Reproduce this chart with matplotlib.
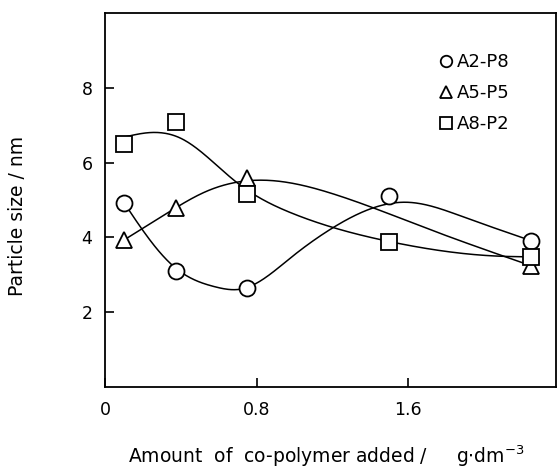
import numpy as np
import matplotlib.pyplot as plt

plt.rcParams["font.family"] = "DejaVu Sans"

conc = np.array([0.1, 0.375, 0.75, 1.5, 2.25])
a2p8 = np.array([4.93, 3.10, 2.66, 5.12, 3.91])
a5p5_x = np.array([0.1, 0.375, 0.75, 2.25])
a5p5 = np.array([3.93, 4.78, 5.58, 3.24])
a8p2 = np.array([6.49, 7.08, 5.15, 3.89, 3.48])

# hand-drawn guide curves, knots
c_a2p8_x = np.array([0.1, 0.26, 0.375, 0.58, 0.72, 0.986, 1.2, 1.59, 1.89, 2.25])
c_a2p8_y = np.array([4.93, 3.78, 3.17, 2.68, 2.62, 3.48, 4.25, 4.94, 4.55, 3.91])
c_a5p5_x = np.array([0.1, 0.325, 0.53, 0.83, 1.2, 1.72, 2.25])
c_a5p5_y = np.array([3.93, 4.64, 5.22, 5.53, 5.17, 4.2, 3.24])
c_a8p2_x = np.array([0.1, 0.23, 0.4, 0.69, 0.99, 1.5, 2.07, 2.25])
c_a8p2_y = np.array([6.68, 6.8, 6.65, 5.49, 4.64, 3.89, 3.50, 3.48])

labels = ["A2-P8", "A5-P5", "A8-P2"]
xticks = [0, 0.8, 1.6]
xticklabels = ["0", "0.8", "1.6"]
yticks = [2, 4, 6, 8]


def natural_spline(x, y, xs):
    # plain natural cubic spline
    n = len(x)
    h = np.diff(x)
    A = np.zeros((n, n))
    b = np.zeros(n)
    A[0, 0] = A[-1, -1] = 1
    for i in range(1, n - 1):
        A[i, i - 1] = h[i - 1]
        A[i, i] = 2 * (h[i - 1] + h[i])
        A[i, i + 1] = h[i]
        b[i] = 3 * ((y[i + 1] - y[i]) / h[i] - (y[i] - y[i - 1]) / h[i - 1])
    c = np.linalg.solve(A, b)
    out = np.empty_like(xs)
    for k, xv in enumerate(xs):
        i = min(max(np.searchsorted(x, xv) - 1, 0), n - 2)
        bi = (y[i + 1] - y[i]) / h[i] - h[i] * (2 * c[i] + c[i + 1]) / 3
        di = (c[i + 1] - c[i]) / (3 * h[i])
        t = xv - x[i]
        out[k] = y[i] + bi * t + c[i] * t ** 2 + di * t ** 3
    return out


fig = plt.figure(figsize=(5.58, 4.70), dpi=100)
ax = fig.add_axes([105 / 558, 1 - 387 / 470, 451 / 558, 374 / 470])

for cx, cy in [(c_a2p8_x, c_a2p8_y), (c_a5p5_x, c_a5p5_y), (c_a8p2_x, c_a8p2_y)]:
    xs = np.linspace(cx[0], cx[-1], 400)
    ax.plot(xs, natural_spline(cx, cy, xs), color="black", lw=1.1, zorder=2)

mk = dict(ls="none", ms=11.5, mfc="white", mec="black", mew=1.3, zorder=3)
ax.plot(conc, a2p8, marker="o", label=labels[0], **mk)
ax.plot(a5p5_x, a5p5, marker="^", label=labels[1], **mk)
ax.plot(conc, a8p2, marker="s", label=labels[2], **mk)

ax.set_xlim(0, 2.38)
ax.set_ylim(0, 10)
ax.set_xticks(xticks)
ax.set_xticklabels(xticklabels)
ax.set_yticks(yticks)
ax.tick_params(direction="in", length=6.5, width=1.2, labelsize=12.5)
ax.tick_params(axis="x", pad=10)
ax.tick_params(axis="y", pad=9)
for s in ax.spines.values():
    s.set_linewidth(1.3)

ax.set_ylabel("Particle size / nm", fontsize=13.5)
ax.yaxis.set_label_coords(-0.172, 0.457)
ax.set_xlabel(r"Amount  of  co-polymer added /     g$\cdot$dm$^{-3}$", fontsize=13.5)
ax.xaxis.set_label_coords(0.49, -0.152)

ax.legend(loc="upper left", bbox_to_anchor=(0.745, 0.892), frameon=False,
          fontsize=13, markerscale=0.72, handlelength=0.6, handletextpad=0.26,
          labelspacing=0.72, borderaxespad=0, borderpad=0)

fig.savefig("out.png", dpi=100)
